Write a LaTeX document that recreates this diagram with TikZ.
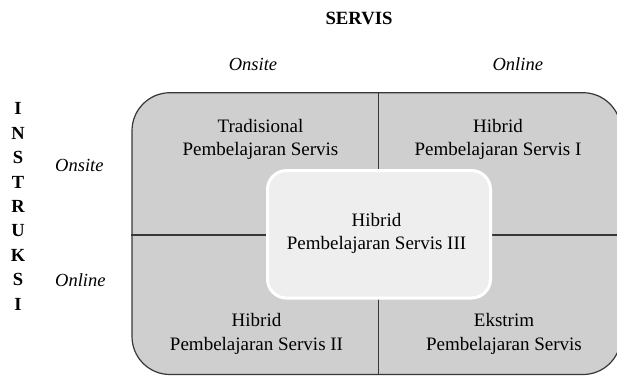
\documentclass[tikz,border=0pt]{standalone}
\usepackage{fontspec}
\setmainfont{Liberation Serif}
\definecolor{quadfill}{RGB}{207,207,207}
\definecolor{innerfill}{RGB}{238,238,238}
\definecolor{edgegray}{RGB}{55,55,55}
\begin{document}
\begin{tikzpicture}[x=1pt,y=-1pt,
  outerbox/.style={draw=edgegray, line width=1.2pt, fill=quadfill, rounded corners=38pt, inner sep=0pt},
  innerbox/.style={draw=white, line width=3pt, fill=innerfill, rounded corners=19pt, inner sep=0pt},
  divider/.style={draw=edgegray, line width=1.1pt},
  quadlabel/.style={align=center, inner sep=0pt, font=\fontsize{19}{23.4}\selectfont},
  axislabel/.style={anchor=base, inner sep=0pt, font=\fontsize{18.5}{22}\selectfont\itshape},
  titlelabel/.style={anchor=base, inner sep=0pt, font=\fontsize{18.7}{22}\selectfont\bfseries},
  vertlabel/.style={align=center, inner sep=0pt, font=\fontsize{18.5}{24.4}\selectfont\bfseries}]
\useasboundingbox (0,0) rectangle (617,376);
\clip (0,0) rectangle (617,376);
% outer grid
\node[outerbox, minimum width=489pt, minimum height=281.8pt] (grid) at (376.5,233.6) {};
\coordinate (cross) at (378.7,235);
\draw[divider] (cross |- grid.north) -- (cross |- grid.south);
\draw[divider] (grid.west |- cross) -- (grid.east |- cross);
% central box
\node[innerbox, minimum width=223pt, minimum height=127.5pt] (center) at (379,234.3) {};
% quadrant labels
\node[quadlabel] (tl) at (260.5,139.2) {\strut Tradisional\\\strut Pembelajaran Servis};
\node[quadlabel] (tr) at (498,139.5) {\strut Hibrid\\\strut Pembelajaran Servis I};
\node[quadlabel] (mid) at (376.5,233.6) {\strut Hibrid\\\strut Pembelajaran Servis III};
\node[quadlabel] (bl) at (256.5,333.7) {\strut Hibrid\\\strut Pembelajaran Servis II};
\node[quadlabel] (br) at (504,333.7) {\strut Ekstrim\\\strut Pembelajaran Servis};
% axis labels
\node[titlelabel] (servis) at (359,24) {SERVIS};
\node[axislabel] (colon) at (253,70.7) {Onsite};
\node[axislabel] (colol) at (517.8,70.7) {Online};
\node[axislabel, anchor=base west] (rowon) at (55,171.7) {Onsite};
\node[axislabel, anchor=base west] (rowol) at (55,286.7) {Online};
\node[vertlabel] (instruksi) at (18,207.6) {\strut I\\\strut N\\\strut S\\\strut T\\\strut R\\\strut U\\\strut K\\\strut S\\\strut I};
\end{tikzpicture}
\end{document}
